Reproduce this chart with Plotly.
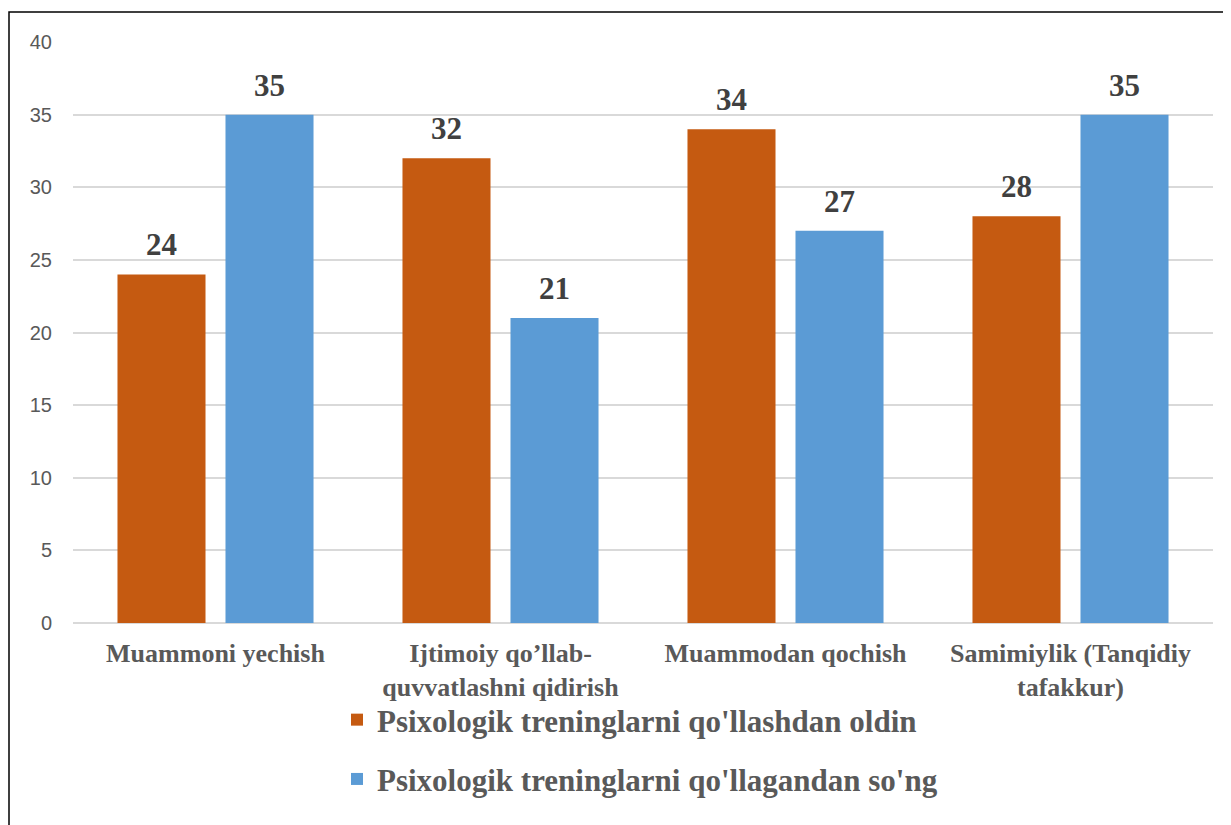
import plotly.graph_objects as go

categories = ["Muammoni yechish", "Ijtimoiy qo’llab-<br>quvvatlashni qidirish",
              "Muammodan qochish", "Samimiylik (Tanqidiy<br>tafakkur)"]
before = [24, 32, 34, 28]
after = [35, 21, 27, 35]
series_names = ["Psixologik treninglarni qo'llashdan oldin",
                "Psixologik treninglarni qo'llagandan so'ng"]
colors = ["#C55A11", "#5B9BD5"]
tick_vals = [0, 5, 10, 15, 20, 25, 30, 35, 40]

SERIF = "Liberation Serif"

# page body has an 8px default margin; figure is sized to fit the window
OFF = 8
W, H = 1231 - OFF, 825 - OFF
L, R, T, B = 73 - OFF, 18, 42 - OFF, 202
pw, ph = W - L - R, H - T - B

fig = go.Figure()
for i, (name, vals) in enumerate([(series_names[0], before), (series_names[1], after)]):
    fig.add_trace(go.Bar(
        x=categories, y=vals, name=f"<b>{name}</b>", marker_color=colors[i],
        marker_line_width=0, legendgroup=str(i),
    ))

annotations = []
for i, vals in enumerate([before, after]):
    shift = -54 if i == 0 else 54
    for c, v in zip(categories, vals):
        annotations.append(dict(
            x=c, y=v, text=f"<b>{v}</b>", showarrow=False, xref="x", yref="y",
            xshift=shift, yanchor="bottom", yshift=10,
            font=dict(family=SERIF, size=31, color="#404040"),
        ))

def px_x(p):  # page pixel -> paper x
    return (p - OFF - L) / pw

def px_y(p):  # page pixel -> paper y
    return (H - B - (p - OFF)) / ph

fig.update_layout(
    width=W, height=H,
    margin=dict(l=L, r=R, t=T, b=B),
    paper_bgcolor="white", plot_bgcolor="white",
    barmode="group", bargap=0.242, bargroupgap=0.185,
    annotations=annotations,
    showlegend=True,
    legend=dict(
        orientation="v", x=px_x(337), y=px_y(693), xanchor="left", yanchor="top",
        font=dict(family=SERIF, size=31, color="#595959"),
        tracegroupgap=16, itemwidth=30, bgcolor="rgba(0,0,0,0)",
    ),
    shapes=[dict(type="rect", xref="paper", yref="paper",
                 x0=px_x(9), x1=px_x(1245), y0=px_y(845), y1=px_y(12),
                 line=dict(color="black", width=1.5), fillcolor="rgba(0,0,0,0)",
                 layer="below")],
    xaxis=dict(
        tickfont=dict(family=SERIF, size=26, color="#595959"),
        tickprefix="<b>", ticksuffix="</b>",
        showgrid=False, showline=False, ticks="", ticklabelstandoff=12,
    ),
    yaxis=dict(
        range=[0, 40], tickvals=tick_vals,
        tickfont=dict(family="Liberation Sans", size=20, color="#595959"),
        gridcolor="#D9D9D9", gridwidth=1.5, zeroline=True, zerolinecolor="#D9D9D9",
        zerolinewidth=1.5, showline=False, ticks="", ticklabelstandoff=20,
    ),
)

fig.write_html("out.html")
